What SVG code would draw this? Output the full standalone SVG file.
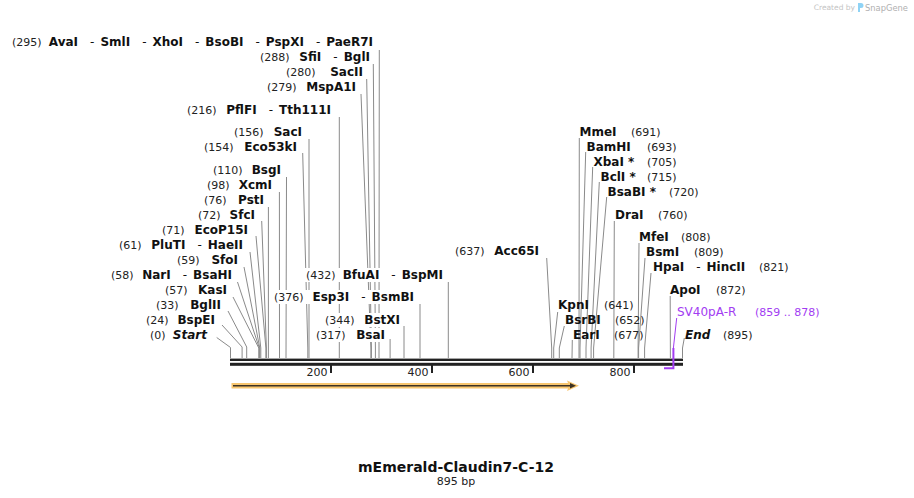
<svg xmlns="http://www.w3.org/2000/svg" width="914" height="498" viewBox="0 0 914 498">
<style>
.num{font-family:"DejaVu Sans",Verdana,sans-serif;font-size:11px;fill:#222}
.nm{font-family:"DejaVu Sans",Verdana,sans-serif;font-size:12px;font-weight:bold;fill:#111}
.sep{font-weight:normal}
.it{font-style:italic}
.ln{stroke:#8a8a8a;stroke-width:1;fill:none}
.bg{fill:#fff}
.tick{font-family:"DejaVu Sans",Verdana,sans-serif;font-size:11px;fill:#222;text-anchor:end}
.pr{fill:#a23cf2;font-family:"DejaVu Sans",Verdana,sans-serif}
</style>
<rect width="914" height="498" fill="#fff"/>

<g id="watermark">
<text x="855" y="10" font-family="DejaVu Sans,sans-serif" font-size="7.5" fill="#c4c4c4" text-anchor="end">Created by</text>
<path d="M858,3 h3 a2.5,2.5 0 0 1 0,5 h-1 v4 h-2 z" fill="#8fd3f5"/>
<text x="865" y="11" font-family="DejaVu Sans,sans-serif" font-size="9.5" fill="#b0b0b0" textLength="43" lengthAdjust="spacingAndGlyphs">SnapGene</text>
</g>

<g id="connectors">
<polyline class="ln" points="379.3,50 379,348 379,358"/>
<polyline class="ln" points="373.3,64 375.4,348 375.4,358"/>
<polyline class="ln" points="366.7,79 371.4,348 371.4,358"/>
<polyline class="ln" points="361,94 370.9,348 370.9,358"/>
<polyline class="ln" points="339.3,117 339.3,358"/>
<polyline class="ln" points="309,139 309,358"/>
<polyline class="ln" points="302.7,153 307.8,348 307.8,358"/>
<polyline class="ln" points="286.5,177 286,358"/>
<polyline class="ln" points="279.4,192 279.5,358"/>
<polyline class="ln" points="268.4,207 268.4,358"/>
<polyline class="ln" points="261.7,221 266.4,348 266.4,358"/>
<polyline class="ln" points="256,236 265.9,348 265.9,358"/>
<polyline class="ln" points="250,252 260.8,348 260.8,358"/>
<polyline class="ln" points="244,267 259.8,348 259.8,358"/>
<polyline class="ln" points="237.5,282 259.3,348 259.3,358"/>
<polyline class="ln" points="233,297 258.8,348 258.8,358"/>
<polyline class="ln" points="228,311 246.7,347 246.7,358"/>
<polyline class="ln" points="222,325 242.1,347 242.1,358"/>
<polyline class="ln" points="216.7,337.5 230.5,347.5 230.5,358"/>
<polyline class="ln" points="448.3,282 448.3,358"/>
<polyline class="ln" points="420,304 420,358"/>
<polyline class="ln" points="404,326 404,358"/>
<polyline class="ln" points="390.1,339 390.1,358"/>
<polyline class="ln" points="546.7,258 551.7,348 551.7,358"/>
<polyline class="ln" points="579.3,138 579,348 579,358"/>
<polyline class="ln" points="585.7,152 580,348 580,358"/>
<polyline class="ln" points="592.7,167 586,348 586,358"/>
<polyline class="ln" points="599.3,182 591.1,348 591.1,358"/>
<polyline class="ln" points="606.7,197 593.6,348 593.6,358"/>
<polyline class="ln" points="614.3,221 613.8,358"/>
<polyline class="ln" points="639,243 638.1,348 638.1,358"/>
<polyline class="ln" points="645,258 638.6,348 638.6,358"/>
<polyline class="ln" points="651,273 644.6,348 644.6,358"/>
<polyline class="ln" points="670.2,296 670.4,358"/>
<polyline class="ln" points="557.7,312 553.7,348 553.7,358"/>
<polyline class="ln" points="564.3,326 559.3,348 559.3,358"/>
<polyline class="ln" points="572.3,340 572,358"/>
<polyline class="ln" points="684.3,338 682.5,348 682.5,358"/>
<polyline points="676.7,318 673.4,348" stroke="#a23cf2" stroke-width="1" fill="none"/>
</g>

<g id="sequence">
<rect x="230" y="358.6" width="453" height="2.4" fill="#222"/>
<rect x="230" y="362.8" width="453" height="3" fill="#222"/>
<rect x="330" y="365" width="2" height="8" fill="#222"/>
<rect x="431" y="365" width="2" height="8" fill="#222"/>
<rect x="532" y="365" width="2" height="8" fill="#222"/>
<rect x="633" y="365" width="2" height="8" fill="#222"/>
<text class="tick" x="327.5" y="376">200</text>
<text class="tick" x="428.5" y="376">400</text>
<text class="tick" x="529.5" y="376">600</text>
<text class="tick" x="630.5" y="376">800</text>
</g>

<g id="feature-mEmerald">
<polygon points="231.5,383 568,383 567,380.5 579,385.7 567,391 568,388.5 231.5,388.5" fill="#f8c66f"/>
<line x1="233" y1="385.7" x2="571" y2="385.7" stroke="#3d3325" stroke-width="1.6"/>
<polygon points="570,383 576,385.7 570,388.4" fill="#3d3325"/>
</g>

<g id="primer-SV40pA-R">
<polyline points="664,368.3 673.4,368.3 673.4,348" stroke="#a23cf2" stroke-width="2" fill="none"/>
<text class="pr" x="677" y="316" font-size="12">SV40pA-R</text>
<text class="pr" x="755" y="316" font-size="11">(859 .. 878)</text>
</g>

<g id="site-AvaI"><text class="num" x="12" y="46">(295)</text><text class="nm" x="373" y="46" text-anchor="end">AvaI<tspan class="sep" dx="12">-</tspan><tspan dx="6">SmlI</tspan><tspan class="sep" dx="12">-</tspan><tspan dx="6">XhoI</tspan><tspan class="sep" dx="12">-</tspan><tspan dx="6">BsoBI</tspan><tspan class="sep" dx="12">-</tspan><tspan dx="6">PspXI</tspan><tspan class="sep" dx="12">-</tspan><tspan dx="6">PaeR7I</tspan></text></g>
<g id="site-SfiI"><text class="num" x="260" y="61">(288)</text><text class="nm" x="370" y="61" text-anchor="end">SfiI<tspan class="sep" dx="12">-</tspan><tspan dx="6">BglI</tspan></text></g>
<g id="site-SacII"><text class="num" x="286" y="76">(280)</text><text class="nm" x="363" y="76" text-anchor="end">SacII</text></g>
<g id="site-MspA1I"><text class="num" x="267" y="91">(279)</text><text class="nm" x="356" y="91" text-anchor="end">MspA1I</text></g>
<g id="site-PflFI"><text class="num" x="187" y="114">(216)</text><text class="nm" x="331" y="114" text-anchor="end">PflFI<tspan class="sep" dx="12">-</tspan><tspan dx="6">Tth111I</tspan></text></g>
<g id="site-SacI"><text class="num" x="234" y="136">(156)</text><text class="nm" x="302" y="136" text-anchor="end">SacI</text></g>
<g id="site-Eco53kI"><text class="num" x="204" y="151">(154)</text><text class="nm" x="297" y="151" text-anchor="end">Eco53kI</text></g>
<g id="site-BsgI"><text class="num" x="213" y="174">(110)</text><text class="nm" x="281" y="174" text-anchor="end">BsgI</text></g>
<g id="site-XcmI"><text class="num" x="207" y="189">(98)</text><text class="nm" x="272" y="189" text-anchor="end">XcmI</text></g>
<g id="site-PstI"><text class="num" x="204" y="204">(76)</text><text class="nm" x="264" y="204" text-anchor="end">PstI</text></g>
<g id="site-SfcI"><text class="num" x="198" y="219">(72)</text><text class="nm" x="255" y="219" text-anchor="end">SfcI</text></g>
<g id="site-EcoP15I"><text class="num" x="162" y="234">(71)</text><text class="nm" x="248" y="234" text-anchor="end">EcoP15I</text></g>
<g id="site-PluTI"><text class="num" x="119" y="249">(61)</text><text class="nm" x="243" y="249" text-anchor="end">PluTI<tspan class="sep" dx="12">-</tspan><tspan dx="6">HaeII</tspan></text></g>
<g id="site-SfoI"><text class="num" x="177" y="264">(59)</text><text class="nm" x="238" y="264" text-anchor="end">SfoI</text></g>
<g id="site-NarI"><text class="num" x="111" y="279">(58)</text><text class="nm" x="232" y="279" text-anchor="end">NarI<tspan class="sep" dx="12">-</tspan><tspan dx="6">BsaHI</tspan></text></g>
<g id="site-KasI"><text class="num" x="165" y="294">(57)</text><text class="nm" x="227" y="294" text-anchor="end">KasI</text></g>
<g id="site-BglII"><text class="num" x="156" y="309">(33)</text><text class="nm" x="221" y="309" text-anchor="end">BglII</text></g>
<g id="site-BspEI"><text class="num" x="146" y="324">(24)</text><text class="nm" x="215" y="324" text-anchor="end">BspEI</text></g>
<g id="site-Start"><text class="num" x="150" y="339">(0)</text><text class="nm it" x="207" y="339" text-anchor="end">Start</text></g>

<g id="site-BfuAI"><rect class="bg" x="303" y="268" width="143" height="14"/><text class="num" x="306" y="279">(432)</text><text class="nm" x="443" y="279" text-anchor="end">BfuAI<tspan class="sep" dx="12">-</tspan><tspan dx="6">BspMI</tspan></text></g>
<g id="site-Esp3I"><rect class="bg" x="271" y="290" width="146" height="14"/><text class="num" x="274" y="301">(376)</text><text class="nm" x="414" y="301" text-anchor="end">Esp3I<tspan class="sep" dx="12">-</tspan><tspan dx="6">BsmBI</tspan></text></g>
<g id="site-BstXI"><rect class="bg" x="322" y="313" width="81" height="14"/><text class="num" x="325" y="324">(344)</text><text class="nm" x="400" y="324" text-anchor="end">BstXI</text></g>
<g id="site-BsaI"><rect class="bg" x="313" y="328" width="75" height="14"/><text class="num" x="316" y="339">(317)</text><text class="nm" x="385" y="339" text-anchor="end">BsaI</text></g>
<g id="site-Acc65I"><text class="num" x="455" y="255">(637)</text><text class="nm" x="539" y="255" text-anchor="end">Acc65I</text></g>

<g id="site-MmeI"><text class="nm" x="579.5" y="136">MmeI</text><text class="num" x="631" y="136">(691)</text></g>
<g id="site-BamHI"><text class="nm" x="586.5" y="151">BamHI</text><text class="num" x="647" y="151">(693)</text></g>
<g id="site-XbaI"><text class="nm" x="593.5" y="166">XbaI *</text><text class="num" x="647" y="166">(705)</text></g>
<g id="site-BclI"><text class="nm" x="600.5" y="181">BclI *</text><text class="num" x="647" y="181">(715)</text></g>
<g id="site-BsaBI"><text class="nm" x="607.5" y="196">BsaBI *</text><text class="num" x="669" y="196">(720)</text></g>
<g id="site-DraI"><text class="nm" x="615" y="219">DraI</text><text class="num" x="658" y="219">(760)</text></g>
<g id="site-MfeI"><text class="nm" x="639" y="241">MfeI</text><text class="num" x="681" y="241">(808)</text></g>
<g id="site-BsmI"><text class="nm" x="646" y="256">BsmI</text><text class="num" x="694" y="256">(809)</text></g>
<g id="site-HpaI"><text class="nm" x="653" y="271">HpaI<tspan class="sep" dx="12">-</tspan><tspan dx="6">HincII</tspan></text><text class="num" x="759" y="271">(821)</text></g>
<g id="site-ApoI"><text class="nm" x="670" y="294">ApoI</text><text class="num" x="716" y="294">(872)</text></g>
<g id="site-KpnI"><text class="nm" x="558" y="309">KpnI</text><text class="num" x="604" y="309">(641)</text></g>
<g id="site-BsrBI"><text class="nm" x="565" y="324">BsrBI</text><text class="num" x="615" y="324">(652)</text></g>
<g id="site-EarI"><text class="nm" x="573" y="339">EarI</text><text class="num" x="614" y="339">(677)</text></g>
<g id="site-End"><text class="nm it" x="685" y="339">End</text><text class="num" x="723" y="339">(895)</text></g>

<g id="title">
<text x="456" y="472" text-anchor="middle" font-family="DejaVu Sans,Verdana,sans-serif" font-size="14" font-weight="bold" fill="#111">mEmerald-Claudin7-C-12</text>
<text x="456" y="485" text-anchor="middle" font-family="DejaVu Sans,Verdana,sans-serif" font-size="11" fill="#222">895 bp</text>
</g>
</svg>
